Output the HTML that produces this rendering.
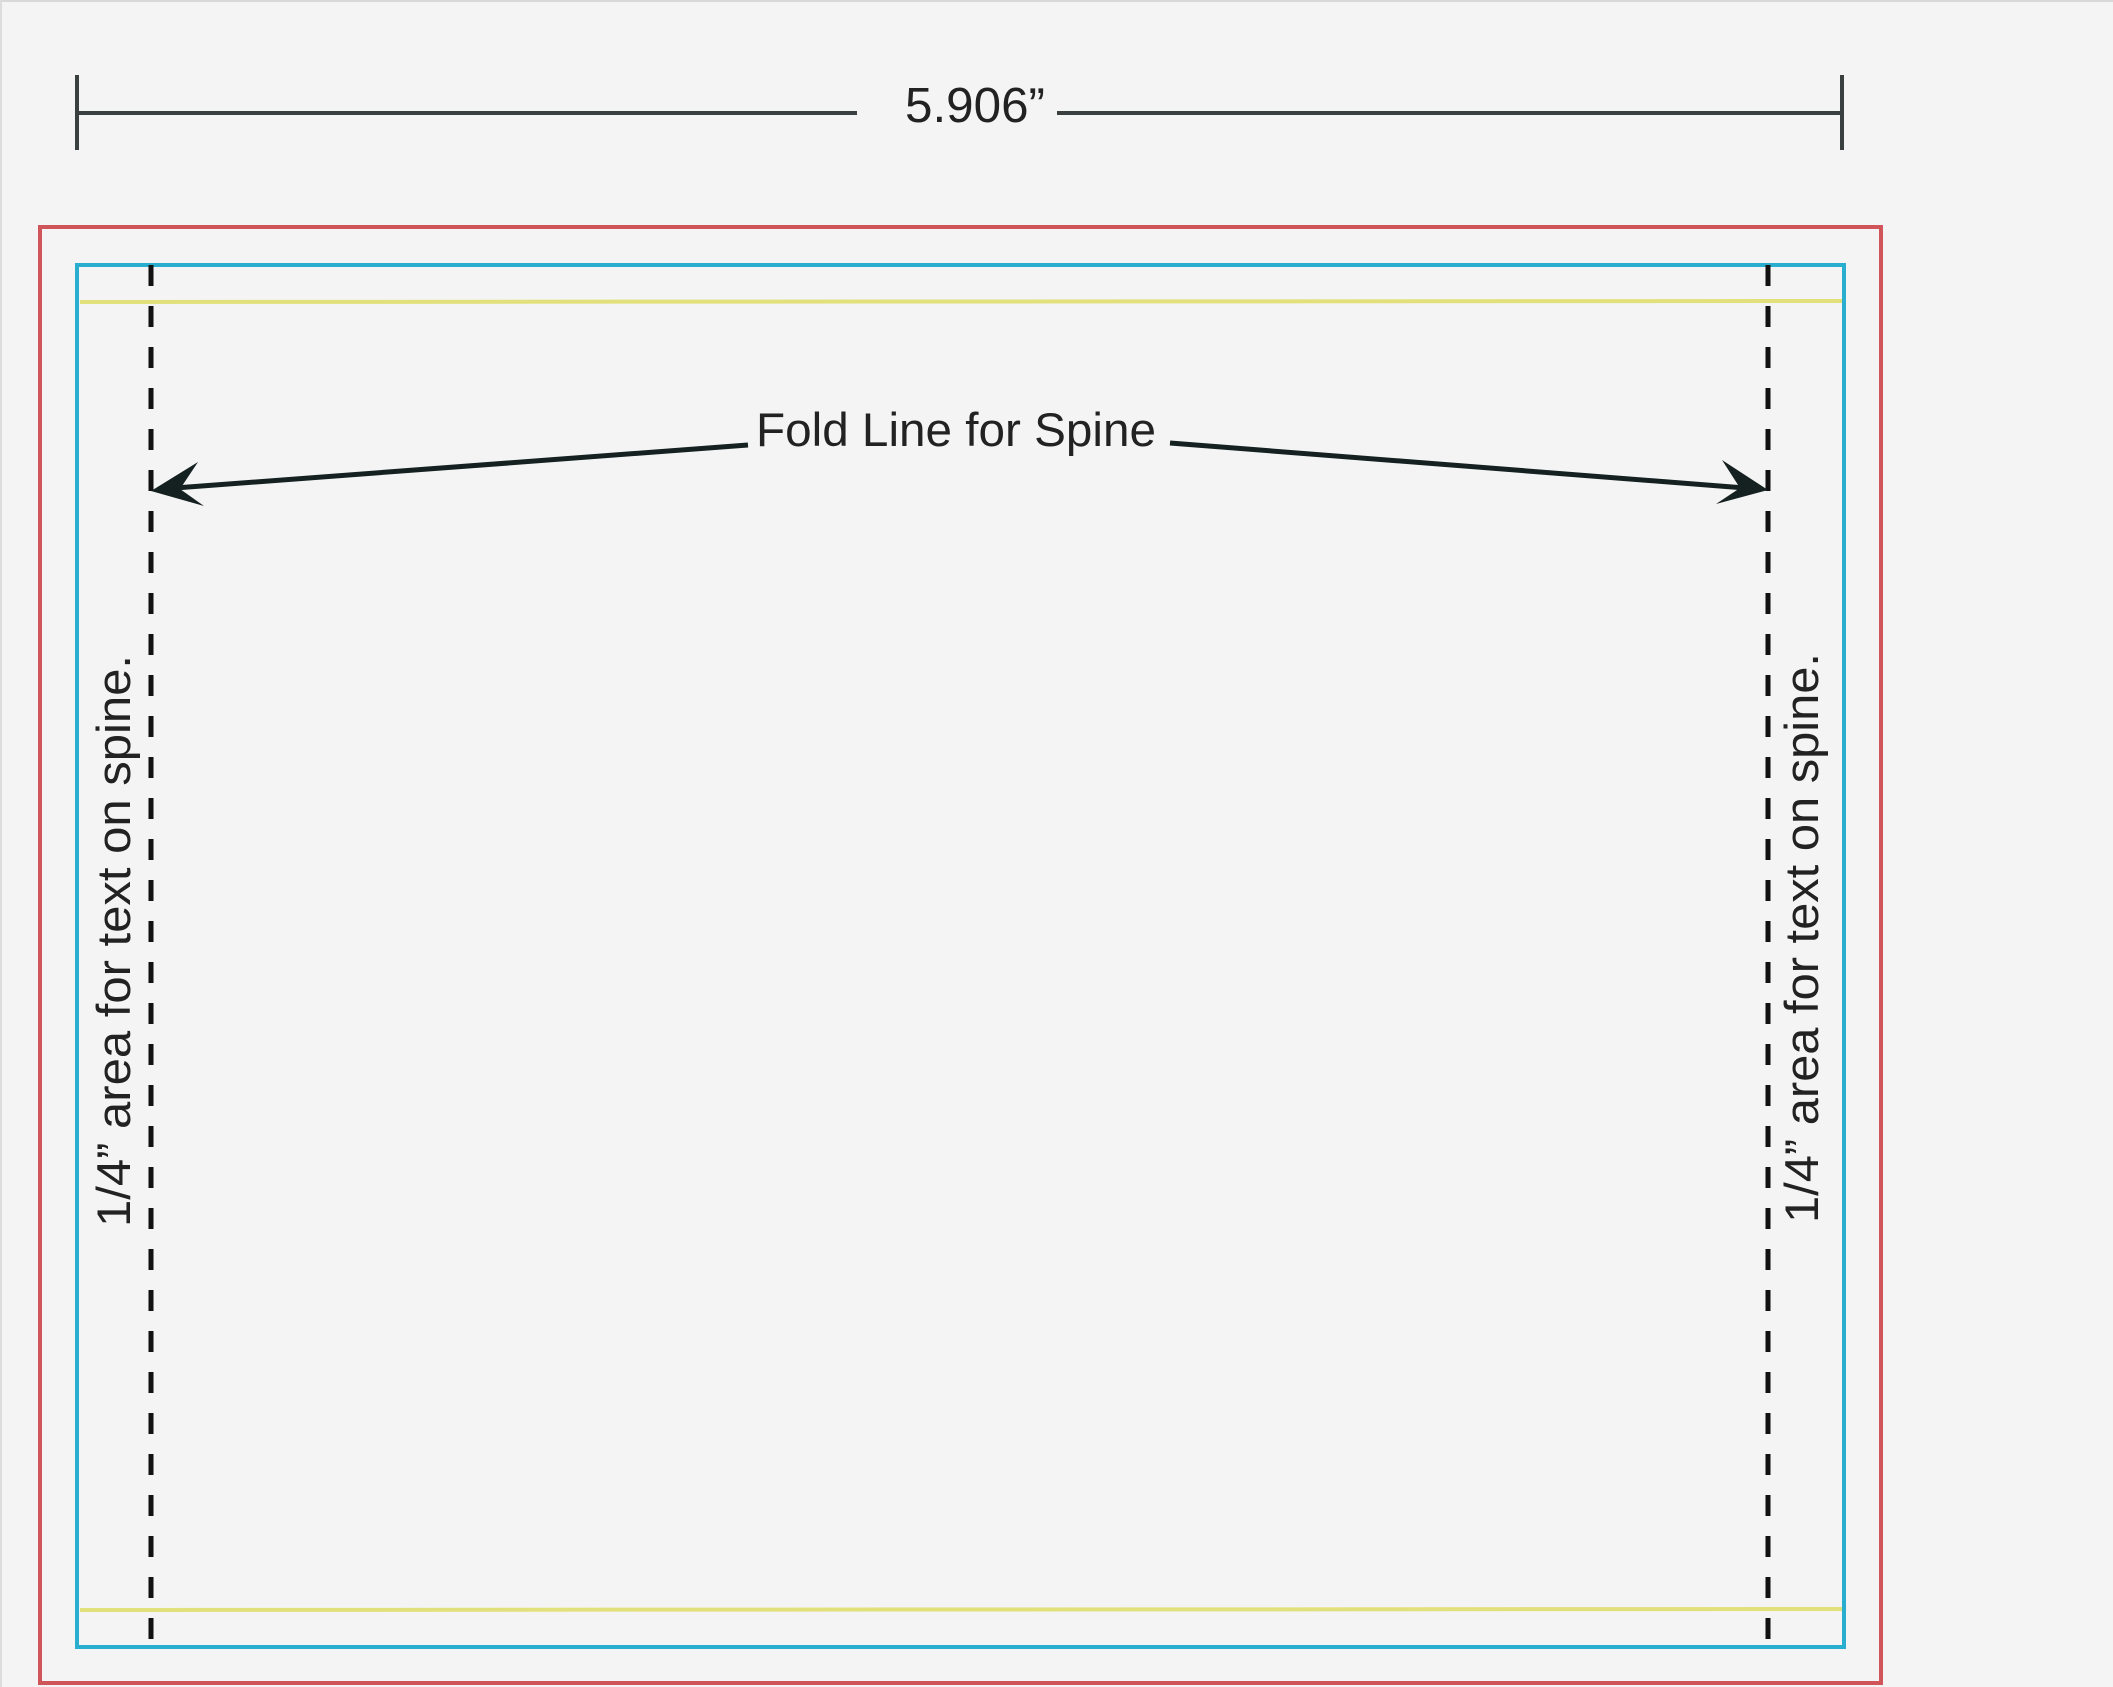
<!DOCTYPE html>
<html><head><meta charset="utf-8"><style>
html,body{margin:0;padding:0;background:#f4f4f4;}
svg{display:block;}
</style></head><body>
<svg width="2113" height="1687" viewBox="0 0 2113 1687" xmlns="http://www.w3.org/2000/svg">
<rect x="0" y="0" width="2113" height="1687" fill="#f4f4f4"/>
<line x1="0" y1="1" x2="2113" y2="1" stroke="#d8d8d8" stroke-width="2"/>
<line x1="1" y1="0" x2="1" y2="1687" stroke="#dcdcdc" stroke-width="2"/>
<g stroke="#3a3f3f" stroke-width="4">
<line x1="77" y1="75" x2="77" y2="150"/>
<line x1="1842" y1="75" x2="1842" y2="150"/>
<line x1="77" y1="113" x2="857" y2="113"/>
<line x1="1057" y1="113" x2="1842" y2="113"/>
</g>
<text x="975" y="122" font-family="Liberation Sans, sans-serif" font-size="49" fill="#222" text-anchor="middle" textLength="140" lengthAdjust="spacingAndGlyphs">5.906”</text>
<rect x="40" y="227" width="1841" height="1456" fill="none" stroke="#d0555a" stroke-width="4"/>
<rect x="77" y="265" width="1767" height="1382" fill="none" stroke="#2aaed0" stroke-width="4"/>
<line x1="80" y1="302" x2="1842" y2="301" stroke="#e2e07a" stroke-width="4"/>
<line x1="80" y1="1610" x2="1842" y2="1609" stroke="#e2e07a" stroke-width="4"/>
<line x1="151" y1="265" x2="151" y2="1647" stroke="#111" stroke-width="5" stroke-dasharray="21 20"/>
<line x1="1768" y1="265" x2="1768" y2="1647" stroke="#111" stroke-width="5" stroke-dasharray="21 20"/>
<g stroke="#152020" stroke-width="5" fill="none">
<line x1="748" y1="445" x2="175" y2="488"/>
<line x1="1170" y1="443" x2="1745" y2="488"/>
</g>
<polygon points="151,491 198,462 180,489 204,506" fill="#152020"/>
<polygon points="1768,490 1722,460 1740,488 1716,504" fill="#152020"/>
<text x="756" y="446" font-family="Liberation Sans, sans-serif" font-size="47" fill="#222" textLength="400" lengthAdjust="spacingAndGlyphs">Fold Line for Spine</text>
<text transform="translate(130,1227) rotate(-90)" font-family="Liberation Sans, sans-serif" font-size="47" fill="#222" textLength="572" lengthAdjust="spacingAndGlyphs">1/4” area for text on spine.</text>
<text transform="translate(1818,1223) rotate(-90)" font-family="Liberation Sans, sans-serif" font-size="47" fill="#222" textLength="570" lengthAdjust="spacingAndGlyphs">1/4” area for text on spine.</text>
</svg>
</body></html>
